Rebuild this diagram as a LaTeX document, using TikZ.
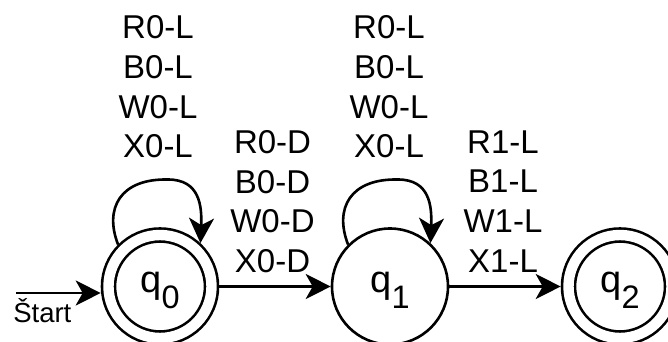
\documentclass[tikz,border=0pt]{standalone}
\usepackage{fontspec}
\setmainfont{Liberation Sans}
\usetikzlibrary{arrows.meta}
% state name: q with a lowered index digit
\newcommand\statename[1]{\raisebox{-6.2pt}{\fontsize{38}{38}\selectfont q\raisebox{-15.6pt}{\fontsize{32.5}{32.5}\selectfont #1}}}
\begin{document}
\begin{tikzpicture}[x=1pt,y=-1pt,
  line width=2.6pt,
  >={Stealth[length=25pt,width=25pt,inset=7pt]},
  statenode/.style={circle,draw,minimum size=116pt,inner sep=0pt,
    text height=0pt,text depth=0pt},
  acceptnode/.style={statenode,double,double distance=10.4pt,
    minimum size=103pt,outer sep=7.8pt},
  lbl/.style={font=\fontsize{33}{39.6}\selectfont,align=center,
    inner sep=0pt,anchor=north},
  startlbl/.style={font=\fontsize{27.5}{30}\selectfont,inner sep=0pt,
    anchor=base west},
  trans/.style={->}
]
\useasboundingbox (0,0) rectangle (668,342);
\clip (0,0) rectangle (668,342);

% states
\node[acceptnode] (q0) at (160,286.5) {\statename{0}};
\node[statenode]  (q1) at (390,286.5) {\statename{1}};
\node[acceptnode] (q2) at (620,286.5) {\statename{2}};

% start marker
\coordinate (s0) at (16,293);
\node[startlbl] (start) at (12,322.3) {Štart};
\draw[trans] (s0) -- (s0 -| q0.west);

% transitions between states
\draw[trans] (q0) -- (q1);
\draw[trans] (q1) -- (q2);

% self loops
\begin{scope}[shift={(q0)}]
  \draw[trans] (q0.135) .. controls (-56,-78) and (-40,-108) .. (8,-107)
    .. controls (40,-107) and (42,-80) .. (q0.47);
\end{scope}
\begin{scope}[shift={(q1)}]
  \draw[trans] (q1.135) .. controls (-56,-78) and (-40,-108) .. (8,-107)
    .. controls (40,-107) and (42,-80) .. (q1.47);
\end{scope}

% transition labels
\node[lbl] (l00) at (158,14.5) {R0-L\\B0-L\\W0-L\\X0-L};
\node[lbl] (l11) at (389,14.5) {R0-L\\B0-L\\W0-L\\X0-L};
\node[lbl] (l01) at (272.5,129.3) {R0-D\\B0-D\\W0-D\\X0-D};
\node[lbl] (l12) at (503,129.3) {R1-L\\B1-L\\W1-L\\X1-L};
\end{tikzpicture}
\end{document}
